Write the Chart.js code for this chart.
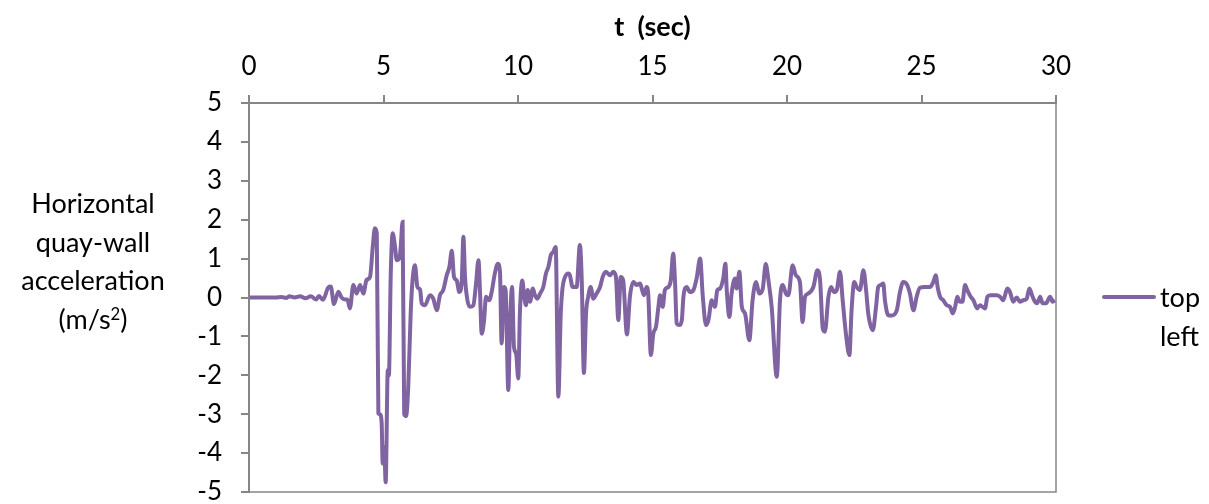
<!DOCTYPE html>
<html>
<head>
<meta charset="utf-8">
<script src="https://cdn.jsdelivr.net/npm/chart.js@4.4.1/dist/chart.umd.min.js"></script>
<style>
  html, body { margin: 0; padding: 0; background: #fff; }
  #wrap { position: relative; width: 1209px; height: 504px; overflow: hidden; font-family: Lato, "Open Sans", sans-serif; color: #000; }
  #c { position: absolute; left: 0; top: 0; }
  #ytitle { position: absolute; left: 0; width: 186px; top: 184px; text-align: center; font-size: 27px; line-height: 38.7px; }
  #ytitle sup { font-size: 0.62em; line-height: 0; vertical-align: 0.55em; }
  #legline { position: absolute; left: 1102px; top: 295px; width: 54px; height: 4px; background: #8064A2; border-radius: 2px; }
  #legtext { position: absolute; left: 1160px; top: 278px; font-size: 27px; line-height: 38.7px; }
</style>
</head>
<body>
<div id="wrap">
  <canvas id="c" width="1209" height="504"></canvas>
  <div id="ytitle">Horizontal<br>quay-wall<br>acceleration<br>(m/s<sup>2</sup>)</div>
  <div id="legline"></div>
  <div id="legtext">top<br>left</div>
</div>
<script>
// ---- data ----
const seriesName = "top left";
const xTitle = "t  (sec)";
const xTicks = [0, 5, 10, 15, 20, 25, 30];
const yTicks = [-5, -4, -3, -2, -1, 0, 1, 2, 3, 4, 5];

const times = [
  0, 0.5, 1.0, 1.2, 1.4, 1.5, 1.7, 1.9, 2.1, 2.3, 2.5, 2.6, 2.75, 2.95, 3.04, 3.16, 3.32, 3.44, 3.57, 3.66,
  3.75, 3.88, 4.0, 4.13, 4.25, 4.37, 4.5, 4.6, 4.68, 4.75, 4.81, 4.87, 4.93, 4.97, 5.03, 5.08, 5.16, 5.2,
  5.27, 5.34, 5.43, 5.49, 5.59, 5.64, 5.71, 5.77, 5.84, 5.92, 6.01, 6.08, 6.17, 6.26, 6.36, 6.42, 6.54,
  6.73, 6.85, 6.98, 7.1, 7.22, 7.35, 7.45, 7.54, 7.62, 7.72, 7.82, 7.91, 7.97, 8.03, 8.12, 8.22, 8.34,
  8.44, 8.53, 8.59, 8.65, 8.74, 8.81, 8.93, 9.02, 9.14, 9.25, 9.33, 9.39, 9.48, 9.54, 9.64, 9.7, 9.78,
  9.85, 9.93, 10.01, 10.07, 10.16, 10.23, 10.3, 10.36, 10.45, 10.55, 10.63, 10.72, 10.82, 10.94, 11.04,
  11.13, 11.22, 11.31, 11.4, 11.5, 11.59, 11.66, 11.75, 11.87, 11.93, 12.03, 12.18, 12.3, 12.37, 12.45,
  12.53, 12.61, 12.7, 12.8, 12.92, 13.05, 13.15, 13.27, 13.42, 13.54, 13.64, 13.73, 13.82, 13.91, 14.05,
  14.16, 14.29, 14.41, 14.54, 14.6, 14.68, 14.78, 14.84, 14.94, 15.03, 15.13, 15.22, 15.28, 15.38, 15.46,
  15.59, 15.68, 15.77, 15.84, 15.9, 16.0, 16.09, 16.15, 16.27, 16.39, 16.52, 16.64, 16.77, 16.87, 16.99,
  17.08, 17.2, 17.32, 17.41, 17.51, 17.63, 17.71, 17.76, 17.86, 17.94, 18.07, 18.13, 18.23, 18.32, 18.44,
  18.6, 18.72, 18.85, 18.97, 19.1, 19.21, 19.31, 19.43, 19.62, 19.74, 19.84, 19.96, 20.05, 20.21, 20.33,
  20.48, 20.58, 20.67, 20.79, 20.98, 21.13, 21.23, 21.33, 21.41, 21.54, 21.64, 21.75, 21.85, 21.97, 22.07,
  22.19, 22.32, 22.4, 22.5, 22.59, 22.71, 22.84, 22.94, 23.02, 23.19, 23.31, 23.39, 23.48, 23.58, 23.64,
  23.77, 23.89, 24.08, 24.2, 24.32, 24.47, 24.57, 24.7, 24.82, 24.94, 25.13, 25.32, 25.44, 25.53, 25.6,
  25.69, 25.81, 25.94, 26.06, 26.16, 26.25, 26.33, 26.43, 26.52, 26.62, 26.7, 26.83, 26.93, 27.07, 27.17,
  27.27, 27.36, 27.45, 27.55, 27.8, 27.92, 28.04, 28.19, 28.29, 28.41, 28.54, 28.66, 28.78, 28.91, 29.01,
  29.13, 29.22, 29.3, 29.41, 29.5, 29.63, 29.78, 29.88, 29.96
];

const accel = [
  0, 0, 0, 0.01, -0.01, 0.03, 0, 0.03, -0.02, 0.03, -0.05, 0.04, -0.06, 0.26, 0.28, -0.17, 0.15, 0.0, -0.05, -0.05,
  -0.28, 0.32, 0.1, 0.32, 0.1, 0.45, 0.53, 1.3, 1.78, 1.65, -2.98, -3.0, -3.2, -4.27, -3.84, -4.75, -1.87, -2.0,
  0.62, 1.65, 1.3, 0.96, 1.0, 1.3, 1.95, -3.0, -3.05, -2.3, -0.42, 0.45, 0.83, 0.27, 0.2, -0.15, -0.2,
  0.06, -0.03, -0.33, 0.06, 0.19, 0.57, 0.79, 1.2, 0.53, 0.44, 0.14, 0.44, 1.56, 0.53, -0.07, -0.24, -0.2,
  0.36, 0.96, 0.1, -0.93, -0.58, 0.02, -0.07, 0.14, 0.62, 0.87, 0.66, -1.18, 0.27, 0.19, -2.38, -0.76, 0.27,
  -1.27, -1.44, -2.08, -0.41, 0.44, 0.02, -0.2, 0.19, -0.11, 0.23, 0.06, -0.03, 0.1, 0.27, 0.62,
  0.79, 1.09, 1.17, 1.3, -2.55, -0.41, 0.27, 0.53, 0.62, 0.57, 0.27, 0.27, 1.35, 0.44, -1.94,
  -0.41, 0.02, 0.27, -0.03, 0.1, 0.27, 0.53, 0.66, 0.57, 0.66, 0.53, -0.58, 0.53, 0.44, -0.95,
  0.02, 0.4, 0.32, 0.36, 0.23, 0.06, 0.27, 0.1, -1.48, -0.93, -0.75, -0.24, 0.06, -0.24, 0.19,
  0.27, 0.44, 1.13, 0.36, -0.67, -0.71, -0.58, 0.02, 0.27, 0.14, 0.19, 0.49, 1.0, 0.02, -0.71,
  -0.58, -0.07, -0.24, 0.19, 0.23, 0.49, 0.87, 0.19, -0.5, 0.1, 0.49, 0.23, 0.66, -0.24, -0.41,
  -1.1, -0.07, 0.4, 0.1, 0.23, 0.86, 0.44, -0.24, -2.04, -0.07, 0.32, 0.1, 0.06, 0.83, 0.57,
  0.4, -0.63, 0.02, 0.1, 0.27, 0.7, 0.44, -0.8, -0.88, 0.02, 0.27, 0.14, 0.19, 0.66, -0.07,
  -0.93, -1.48, -0.33, 0.4, 0.27, 0.19, 0.7, 0.19, -0.41, -0.84, -0.24, 0.27, 0.32, 0.36, -0.07,
  -0.46, -0.46, -0.33, 0.14, 0.4, 0.32, 0.1, -0.33, 0.02, 0.25, 0.27, 0.27, 0.4, 0.57, 0.27,
  0.02, -0.07, -0.2, -0.24, -0.41, -0.24, 0.02, -0.11, -0.11, 0.32, 0.19, 0.02, -0.07, -0.28, -0.2,
  -0.24, -0.28, 0.02, 0.06, 0.06, 0.02, -0.07, 0.23, 0.14, -0.11, 0, -0.11, -0.07, -0.03, 0.23,
  0.02, -0.11, -0.15, 0.02, -0.15, -0.15, 0.02, -0.11, -0.07
];

const points = times.map((t, i) => ({ x: t, y: accel[i] }));
const axisGray = '#868686';
const fontFam = 'Lato, "Open Sans", sans-serif';

const frame = {
  id: 'frame',
  afterDatasetsDraw(chart) {
    const a = chart.chartArea, ctx = chart.ctx;
    ctx.save();
    ctx.strokeStyle = axisGray;
    ctx.lineWidth = 1.5;
    ctx.strokeRect(a.left, a.top, a.right - a.left, a.bottom - a.top);
    ctx.restore();
  }
};

new Chart(document.getElementById('c'), {
  type: 'line',
  data: {
    datasets: [{
      label: seriesName,
      data: points,
      borderColor: '#8064A2',
      borderWidth: 4,
      pointRadius: 0,
      fill: false,
      cubicInterpolationMode: 'monotone',
      tension: 0.3
    }]
  },
  options: {
    responsive: false,
    animation: false,
    devicePixelRatio: 1,
    layout: { padding: { left: 190, right: 153, top: 0, bottom: 12 } },
    plugins: { legend: { display: false }, tooltip: { enabled: false } },
    scales: {
      x: {
        type: 'linear',
        position: 'top',
        min: 0, max: 30,
        afterBuildTicks: (s) => { s.ticks = xTicks.map(v => ({ value: v })); },
        ticks: { color: '#000', font: { family: fontFam, size: 26 }, padding: 13, maxRotation: 0 },
        grid: { display: true, drawOnChartArea: false, drawTicks: true, tickLength: 8, color: axisGray, lineWidth: 2 },
        border: { display: true, color: axisGray, width: 2 },
        title: { display: true, text: xTitle, color: '#000', font: { family: fontFam, size: 27, weight: 'bold' }, padding: { top: 11, bottom: 0 } },
        afterFit: (s) => { s.height = 103; s.paddingLeft = 0; s.paddingRight = 0; }
      },
      y: {
        type: 'linear',
        min: -5, max: 5,
        afterBuildTicks: (s) => { s.ticks = yTicks.map(v => ({ value: v })); },
        ticks: { color: '#000', font: { family: fontFam, size: 26 }, padding: 19 },
        grid: { display: true, drawOnChartArea: false, drawTicks: true, tickLength: 8, color: axisGray, lineWidth: 2 },
        border: { display: true, color: axisGray, width: 2 },
        afterFit: (s) => { s.width = 59; s.paddingTop = 0; s.paddingBottom = 0; }
      }
    }
  },
  plugins: [frame]
});
</script>
</body>
</html>
